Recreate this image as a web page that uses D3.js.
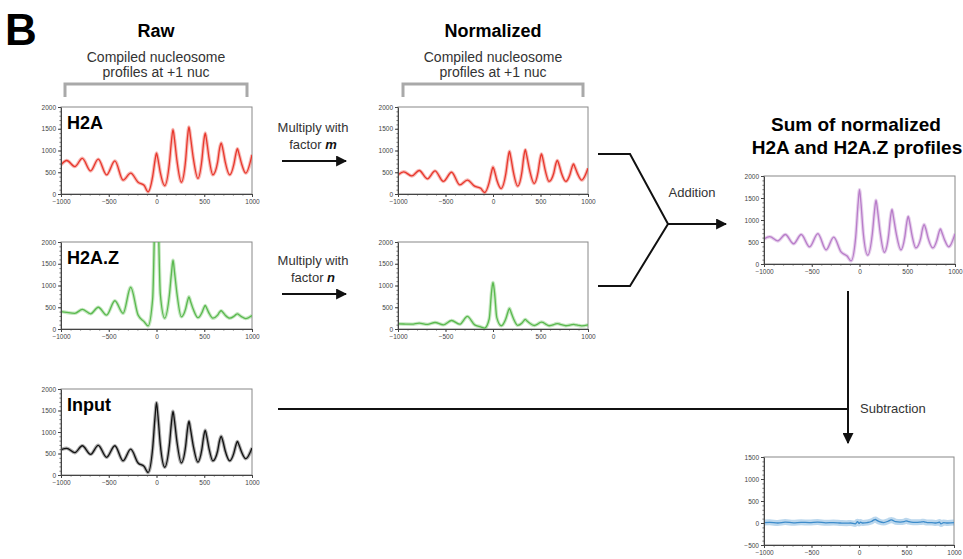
<!DOCTYPE html>
<html>
<head>
  <meta charset="utf-8">
  <style>
    body { margin: 0; background: #fff; }
    text { font-family: "Liberation Sans", Arial, Helvetica, sans-serif; }
    .tick text { font-size: 6.5px; fill: #444; }
    .tick line, .domain { stroke: #444; }
    .minor .tick line { stroke: #666; }
    .frame { fill: none; stroke: #888; stroke-width: 1; }
    .flow { fill: none; stroke: #111; stroke-width: 2; }
    .bracket { fill: none; stroke: #a9a9a9; stroke-width: 3; }
  </style>
</head>
<body>
  <script src="https://cdn.jsdelivr.net/npm/d3@7"></script>
  <script>
    // positions around the +1 nucleosome (bp)
    const positions = [-1000, -940, -855, -777, -690, -610, -523, -436, -350, -270, -193, -130, -88, -40, -15, 0, 15, 40, 86, 135,
      158, 173, 188, 215, 260, 305, 325, 340, 355, 385, 434, 475, 495, 510, 525, 550, 590, 640, 660, 677,
      694, 720, 767, 810, 832, 847, 862, 890, 934, 1000];

    const h2aRaw = [670, 770, 630, 820, 530, 800, 440, 760, 320, 480, 270, 200, 50, 406, 780, 940, 805, 490, 190, 706,
      1248, 1480, 1262, 754, 270, 778, 1311, 1540, 1328, 832, 360, 776, 1213, 1400, 1227, 824, 440, 732, 1039, 1170,
      1039, 732, 440, 680, 932, 1040, 939, 704, 480, 900];

    const h2azRaw = [400, 380, 360, 450, 350, 500, 320, 650, 360, 960, 320, 170, 70, 700, 2800, 3500, 2800, 800, 250, 782,
      1314, 1580, 1320, 800, 280, 464, 648, 740, 644, 452, 260, 372, 484, 540, 482, 366, 250, 318, 386, 420,
      386, 318, 250, 290, 330, 350, 328, 284, 240, 310];

    const inputRaw = [590, 620, 520, 680, 480, 690, 410, 680, 330, 600, 280, 200, 60, 627, 1356, 1680, 1380, 705, 180, 700,
      1246, 1480, 1264, 760, 280, 668, 1075, 1250, 1079, 680, 300, 596, 907, 1040, 912, 614, 330, 558, 797, 900,
      797, 558, 330, 510, 699, 780, 708, 540, 380, 630];

    const h2aNorm = [440, 510, 415, 540, 350, 530, 290, 500, 210, 320, 180, 130, 35, 269, 515, 620, 531, 323, 125, 467,
      826, 980, 836, 500, 180, 516, 869, 1020, 880, 552, 240, 512, 798, 920, 807, 542, 290, 482, 684, 770,
      684, 482, 290, 450, 618, 690, 623, 468, 320, 590];

    const h2azNorm = [120, 115, 110, 135, 105, 150, 95, 195, 110, 290, 95, 50, 20, 230, 860, 1070, 860, 260, 75, 235,
      395, 475, 397, 241, 85, 139, 192, 220, 192, 136, 80, 120, 150, 160, 150, 118, 75, 100, 120, 125,
      120, 100, 75, 90, 100, 105, 100, 88, 70, 95];

    const sumNorm = [570, 620, 525, 670, 460, 670, 390, 690, 320, 610, 275, 180, 70, 605, 1366, 1690, 1392, 692, 200, 700,
      1225, 1450, 1237, 739, 265, 655, 1065, 1240, 1074, 688, 320, 624, 943, 1080, 951, 651, 365, 577, 800, 895,
      800, 577, 365, 537, 718, 795, 722, 552, 390, 685];

    const subtracted = [10, 15, 0, 20, 5, 15, 10, 20, 5, 10, 0, -5, 0, -20, 30, -10, 20, 0, 10, 40,
      70, 80, 60, 30, 10, 40, 60, 70, 60, 30, 20, 30, 50, 40, 30, 20, 15, 20, 25, 30,
      20, 10, 10, 0, 10, 20, -20, 10, 0, 10];

    const xTicks = [-1000, -500, 0, 500, 1000];
    const yTicks = [0, 500, 1000, 1500, 2000];
    const yTicksDiff = [-500, 0, 500, 1000, 1500];

    const red = '#e8372c', green = '#5ab94e', purple = '#b87cc9', blue = '#3d8ccb';

    const panels = [
      { x: 61, y: 107, w: 191, h: 87, vals: h2aRaw, color: red, label: 'H2A', yd: [0, 2000], yt: yTicks },
      { x: 61, y: 242, w: 191, h: 87, vals: h2azRaw, color: green, label: 'H2A.Z', yd: [0, 2000], yt: yTicks },
      { x: 61, y: 389, w: 191, h: 86, vals: inputRaw, color: '#111', label: 'Input', yd: [0, 2000], yt: yTicks },
      { x: 398, y: 107, w: 190, h: 87, vals: h2aNorm, color: red, label: '', yd: [0, 2000], yt: yTicks },
      { x: 398, y: 242, w: 190, h: 87, vals: h2azNorm, color: green, label: '', yd: [0, 2000], yt: yTicks },
      { x: 764, y: 176, w: 191, h: 88, vals: sumNorm, color: purple, label: '', yd: [0, 2000], yt: yTicks },
      { x: 764, y: 457, w: 190, h: 88, vals: subtracted, color: blue, label: '', yd: [-500, 1500], yt: yTicksDiff }
    ];

    var svg = d3.select('body')
      .append('svg')
      .attr('width', 963)
      .attr('height', 559);

    var defs = svg.append('defs');
    defs.append('marker')
      .attr('id', 'arrow')
      .attr('viewBox', '0 0 10 10')
      .attr('refX', 9).attr('refY', 5)
      .attr('markerWidth', 11).attr('markerHeight', 11)
      .attr('markerUnits', 'userSpaceOnUse')
      .attr('orient', 'auto')
      .append('path')
      .attr('d', 'M0,0 L10,5 L0,10 z')
      .attr('fill', '#111');

    var fmt = d3.format('d');

    panels.forEach(function (p, i) {
      var xScale = d3.scaleLinear().domain([-1000, 1000]).range([0, p.w]);
      var yScale = d3.scaleLinear().domain(p.yd).range([p.h, 0]);
      var g = svg.append('g').attr('transform', `translate(${p.x},${p.y})`);

      defs.append('clipPath').attr('id', 'clip' + i)
        .append('rect').attr('width', p.w).attr('height', p.h);

      g.append('rect').attr('class', 'frame').attr('width', p.w).attr('height', p.h);

      var line = d3.line()
        .x((d, j) => xScale(positions[j]))
        .y(d => yScale(d))
        .curve(d3.curveMonotoneX);

      // light halo for the noisy band, then the core line
      var lines = g.append('g').attr('clip-path', `url(#clip${i})`);
      lines.append('path')
        .datum(p.vals)
        .attr('d', line)
        .attr('fill', 'none')
        .attr('stroke', p.color)
        .attr('stroke-opacity', 0.35)
        .attr('stroke-width', p.vals === subtracted ? 6 : 3.5);
      lines.append('path')
        .datum(p.vals)
        .attr('d', line)
        .attr('fill', 'none')
        .attr('stroke', p.color)
        .attr('stroke-width', 1.3);

      // minor ticks
      g.append('g').attr('class', 'minor')
        .call(d3.axisLeft(yScale).tickValues(d3.range(p.yd[0], p.yd[1] + 1, 100)).tickSize(1.5).tickFormat(''))
        .select('.domain').remove();
      g.append('g').attr('class', 'minor')
        .attr('transform', `translate(0,${p.h})`)
        .call(d3.axisBottom(xScale).tickValues(d3.range(-1000, 1001, 100)).tickSize(1.5).tickFormat(''))
        .select('.domain').remove();

      g.append('g')
        .call(d3.axisLeft(yScale).tickValues(p.yt).tickFormat(fmt).tickSize(3).tickPadding(2).tickSizeOuter(0));
      g.append('g')
        .attr('transform', `translate(0,${p.h})`)
        .call(d3.axisBottom(xScale).tickValues(xTicks).tickFormat(fmt).tickSize(3).tickPadding(2).tickSizeOuter(0));

      if (p.label) {
        g.append('text')
          .attr('x', 6).attr('y', 22)
          .attr('font-size', 18).attr('font-weight', 'bold')
          .text(p.label);
      }
    });

    // headings
    svg.append('text').attr('x', 5).attr('y', 45)
      .attr('font-size', 44).attr('font-weight', 'bold').text('B');

    function heading(cx, title) {
      svg.append('text').attr('x', cx).attr('y', 37).attr('text-anchor', 'middle')
        .attr('font-size', 18).attr('font-weight', 'bold').text(title);
      svg.append('text').attr('x', cx).attr('y', 62).attr('text-anchor', 'middle')
        .attr('font-size', 14).attr('fill', '#333').text('Compiled nucleosome');
      svg.append('text').attr('x', cx).attr('y', 77).attr('text-anchor', 'middle')
        .attr('font-size', 14).attr('fill', '#333').text('profiles at +1 nuc');
    }
    heading(156, 'Raw');
    heading(493, 'Normalized');

    svg.append('path').attr('class', 'bracket').attr('d', 'M65,97 V84 H247 V97');
    svg.append('path').attr('class', 'bracket').attr('d', 'M403,97 V84 H583 V97');

    // multiply arrows
    function multiply(y, factor) {
      svg.append('text').attr('x', 313).attr('y', y).attr('text-anchor', 'middle')
        .attr('font-size', 13).attr('fill', '#333').text('Multiply with');
      var t2 = svg.append('text').attr('x', 313).attr('y', y + 17).attr('text-anchor', 'middle')
        .attr('font-size', 13).attr('fill', '#333');
      t2.append('tspan').text('factor ');
      t2.append('tspan').attr('font-weight', 'bold').attr('font-style', 'italic').attr('fill', '#111').text(factor);
      svg.append('line').attr('class', 'flow')
        .attr('x1', 282).attr('x2', 346).attr('y1', y + 29).attr('y2', y + 29)
        .attr('marker-end', 'url(#arrow)');
    }
    multiply(132, 'm');
    multiply(265, 'n');

    // addition
    svg.append('path').attr('class', 'flow').attr('d', 'M598,154 H630 L668,224 L630,286 H598');
    svg.append('line').attr('class', 'flow')
      .attr('x1', 668).attr('x2', 726).attr('y1', 224).attr('y2', 224)
      .attr('marker-end', 'url(#arrow)');
    svg.append('text').attr('x', 692).attr('y', 197).attr('text-anchor', 'middle')
      .attr('font-size', 13).attr('fill', '#333').text('Addition');

    svg.append('text').attr('x', 856).attr('y', 131).attr('text-anchor', 'middle')
      .attr('font-size', 19).attr('font-weight', 'bold').text('Sum of normalized');
    svg.append('text').attr('x', 857).attr('y', 154).attr('text-anchor', 'middle')
      .attr('font-size', 19).attr('font-weight', 'bold').text('H2A and H2A.Z profiles');

    // subtraction
    svg.append('line').attr('class', 'flow')
      .attr('x1', 278).attr('x2', 848).attr('y1', 409).attr('y2', 409);
    svg.append('line').attr('class', 'flow')
      .attr('x1', 848).attr('x2', 848).attr('y1', 291).attr('y2', 443)
      .attr('marker-end', 'url(#arrow)');
    svg.append('text').attr('x', 860).attr('y', 413)
      .attr('font-size', 13).attr('fill', '#333').text('Subtraction');
  </script>
</body>
</html>
